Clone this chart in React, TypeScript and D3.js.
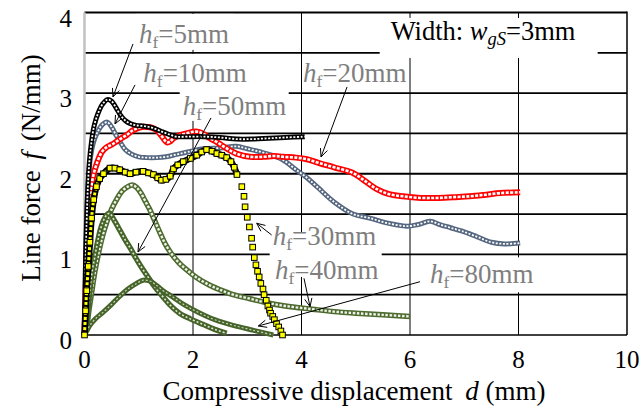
import * as d3 from "d3";

const FONT = "'Liberation Serif', 'Times New Roman', serif";

// axis ticks and grid
const xTicks = [0, 2, 4, 6, 8, 10];
const yTicks = [0, 1, 2, 3, 4];
const xGrid = [2, 4, 6, 8];
const yGrid = [0.5, 1, 1.5, 2, 2.5, 3, 3.5, 4];

// [d (mm), f (N/mm)]
const hf5 = [[0,0],[0.01,0.4],[0.02,0.9],[0.04,1.4],[0.06,1.8],[0.09,2.15],[0.13,2.4],[0.18,2.6],[0.25,2.75],[0.33,2.86],[0.42,2.92],[0.5,2.9],[0.58,2.82],[0.66,2.73],[0.75,2.66],[0.85,2.62],[0.95,2.6],[1.1,2.59],[1.25,2.57],[1.4,2.53],[1.55,2.49],[1.7,2.46],[1.9,2.46],[2.2,2.46],[2.5,2.45],[2.8,2.43],[3.1,2.43],[3.4,2.44],[3.7,2.45],[4.06,2.46]];
const hf10 = [[0,0],[0.01,0.5],[0.02,1.0],[0.04,1.5],[0.07,1.9],[0.11,2.2],[0.17,2.4],[0.25,2.53],[0.33,2.61],[0.42,2.64],[0.5,2.58],[0.58,2.48],[0.66,2.39],[0.75,2.3],[0.85,2.25],[1.0,2.21],[1.15,2.2],[1.33,2.2],[1.5,2.21],[1.7,2.24],[1.9,2.27],[2.2,2.31],[2.5,2.32],[2.8,2.34],[3.0,2.31],[3.25,2.27],[3.45,2.23],[3.66,2.17],[3.9,2.05],[4.1,1.95],[4.3,1.83],[4.6,1.65],[4.95,1.5],[5.26,1.45],[5.57,1.39],[5.94,1.35],[6.15,1.37],[6.37,1.41],[6.55,1.37],[6.75,1.33],[6.95,1.29],[7.23,1.22],[7.5,1.15],[7.75,1.13],[8.03,1.14]];
const hf20 = [[0,0],[0.01,0.3],[0.03,0.75],[0.05,1.15],[0.08,1.5],[0.12,1.8],[0.17,2.0],[0.24,2.15],[0.32,2.27],[0.41,2.33],[0.5,2.36],[0.59,2.4],[0.68,2.44],[0.78,2.48],[0.87,2.53],[0.96,2.56],[1.06,2.58],[1.15,2.58],[1.25,2.57],[1.33,2.54],[1.42,2.47],[1.52,2.39],[1.58,2.4],[1.64,2.44],[1.76,2.48],[1.88,2.5],[2.0,2.52],[2.1,2.52],[2.2,2.49],[2.31,2.44],[2.45,2.39],[2.56,2.34],[2.68,2.29],[2.8,2.25],[3.05,2.21],[3.3,2.21],[3.5,2.22],[3.66,2.21],[3.9,2.2],[4.1,2.18],[4.34,2.13],[4.6,2.08],[4.95,2.01],[5.15,1.92],[5.39,1.81],[5.6,1.75],[5.87,1.72],[6.2,1.7],[6.49,1.7],[6.8,1.71],[7.1,1.72],[7.4,1.74],[7.66,1.76],[8.03,1.77]];
const hf30 = [[0,0],[0.02,0.3],[0.04,0.55],[0.07,0.85],[0.1,1.15],[0.13,1.45],[0.17,1.68],[0.22,1.84],[0.28,1.94],[0.35,2.0],[0.47,2.07],[0.56,2.07],[0.65,2.05],[0.75,2.02],[0.84,2.0],[0.95,2.02],[1.08,2.03],[1.18,2.01],[1.27,1.99],[1.35,1.95],[1.42,1.92],[1.5,1.93],[1.58,1.97],[1.64,2.06],[1.72,2.11],[1.82,2.15],[1.95,2.19],[2.07,2.23],[2.16,2.27],[2.25,2.3],[2.35,2.28],[2.44,2.25],[2.53,2.23],[2.62,2.2],[2.7,2.15],[2.76,2.08],[2.81,1.99],[2.9,1.84],[2.94,1.72],[2.96,1.59],[3.0,1.46],[3.04,1.34],[3.08,1.2],[3.1,1.09],[3.13,0.96],[3.16,0.87],[3.19,0.79],[3.22,0.72],[3.25,0.64],[3.29,0.57],[3.31,0.5],[3.35,0.43],[3.38,0.36],[3.41,0.31],[3.43,0.27],[3.47,0.23],[3.5,0.19],[3.54,0.14],[3.58,0.1],[3.62,0.05],[3.65,0.0]];
const hf40 = [[0,0],[0.04,0.1],[0.08,0.3],[0.13,0.52],[0.19,0.78],[0.26,1.02],[0.33,1.22],[0.41,1.4],[0.5,1.56],[0.6,1.69],[0.7,1.79],[0.8,1.84],[0.88,1.86],[0.96,1.83],[1.04,1.76],[1.12,1.66],[1.2,1.56],[1.28,1.44],[1.39,1.27],[1.48,1.14],[1.58,1.03],[1.72,0.91],[1.88,0.81],[2.05,0.72],[2.3,0.62],[2.5,0.56],[2.74,0.5],[3.05,0.45],[3.36,0.4],[3.7,0.36],[4.2,0.32],[4.6,0.29],[5.0,0.27],[5.5,0.25],[6.0,0.23]];
const hf50 = [[0,0],[0.03,0.12],[0.06,0.3],[0.1,0.56],[0.14,0.78],[0.19,0.97],[0.24,1.15],[0.29,1.3],[0.35,1.42],[0.41,1.49],[0.46,1.51],[0.55,1.42],[0.65,1.3],[0.75,1.18],[0.85,1.07],[0.95,0.95],[1.05,0.84],[1.15,0.74],[1.25,0.64],[1.35,0.55],[1.45,0.47],[1.58,0.37],[1.75,0.27],[1.95,0.2],[2.19,0.13],[2.4,0.07],[2.62,0.02]];
const hf80 = [[0,0],[0.05,0.06],[0.1,0.12],[0.2,0.2],[0.34,0.28],[0.5,0.38],[0.65,0.48],[0.8,0.57],[0.96,0.64],[1.08,0.68],[1.2,0.67],[1.3,0.63],[1.45,0.55],[1.63,0.47],[1.85,0.37],[2.13,0.27],[2.4,0.19],[2.74,0.12],[3.1,0.06],[3.48,0.0]];

// drawing order: greens at the back, yellow on top
const series = [
  { data: hf40, color: "#4e6b30", inner: "#eef2e8", w: 5.5, iw: 2.4, dash: "2.5 1.6" },
  { data: hf50, color: "#46642a", inner: "#dfe7d4", w: 5.5, iw: 1.6, dash: "2 2" },
  { data: hf80, color: "#46642a", inner: "#c9d5bb", w: 5, iw: 1.2, dash: "2 2" },
  { data: hf10, color: "#55667f", inner: "#ffffff", w: 5, iw: 1.8, dash: "2 1.6" },
  { data: hf20, color: "#ff0000", inner: "#ffffff", w: 6, iw: 2.6, dash: "3 1.4" },
  { data: hf5, color: "#000000", inner: "#ffffff", w: 5, iw: 1.8, dash: "2 1.6" },
];

// label text positions given in data units
const labels = [
  { sub: "f", text: "=5mm", at: [1.005, 3.623], box: [-3, -29, 98, 36], from: [0.894, 3.61], to: [0.525, 2.953] },
  { sub: "f", text: "=10mm", at: [1.084, 3.139], box: [-3, -28, 109, 37], from: [0.931, 3.102], to: [0.562, 2.618] },
  { sub: "f", text: "=50mm", at: [1.81, 2.73], box: [-3, -25, 109, 31], from: [2.332, 2.692], to: [0.986, 1.03] },
  { sub: "f", text: "=20mm", at: [4.028, 3.139], box: null, from: [4.84, 3.077], to: [4.36, 2.208] },
  { sub: "f", text: "=30mm", at: [3.469, 1.117], box: [-3, -12, 112, 25], from: [3.45, 1.24], to: [3.174, 1.386] },
  { sub: "f", text: "=40mm", at: [3.512, 0.695], box: [-3, -21, 113, 19], from: [4.046, 0.703], to: [4.157, 0.351] },
  { sub: "f", text: "=80mm", at: [6.369, 0.641], box: [-10, -26, 119, 35], from: [6.184, 0.661], to: [3.204, 0.112] },
];

const X0 = 84.5, X1 = 627, Y0 = 335, Y1 = 12.5;

export default function App() {
  const x = d3.scaleLinear([0, 10], [X0, X1]);
  const y = d3.scaleLinear([0, 4], [Y0, Y1]);

  const line = d3.line<number[]>()
    .x(d => x(d[0]))
    .y(d => y(d[1]))
    .curve(d3.curveCatmullRom.alpha(0.5));

  // the yellow squares only overlap into a band up to the peak
  const yellowBand = d3.line<number[]>()
    .defined(d => d[0] <= 2.81)
    .x(d => x(d[0]))
    .y(d => y(d[1]))
    .curve(d3.curveCatmullRom.alpha(0.5));

  const arrowHead = (from: number[], to: number[]) => {
    const x1 = x(from[0]), y1 = y(from[1]), x2 = x(to[0]), y2 = y(to[1]);
    const a = Math.atan2(y2 - y1, x2 - x1);
    const len = 9, spread = 0.42;
    const p1 = [x2 - len * Math.cos(a - spread), y2 - len * Math.sin(a - spread)];
    const p2 = [x2 - len * Math.cos(a + spread), y2 - len * Math.sin(a + spread)];
    return `M${p1[0]},${p1[1]}L${x2},${y2}L${p2[0]},${p2[1]}`;
  };

  const wLabel = [5.644, 3.66];

  return (
    <svg width={643} height={409} style={{ position: "absolute", left: 0, top: 0, background: "#fff" }} fontFamily={FONT}>
      {/* grid */}
      {xGrid.map(v => (
        <line key={"gx" + v} x1={x(v)} x2={x(v)} y1={Y1} y2={Y0} stroke="#000" strokeWidth={1} />
      ))}
      {yGrid.map(v => (
        <line key={"gy" + v} x1={X0} x2={X1} y1={y(v)} y2={y(v)} stroke="#000" strokeWidth={v === 4 ? 2 : 1.8} />
      ))}
      <line x1={X1} x2={X1} y1={Y1 - 1} y2={Y0} stroke="#000" strokeWidth={1.5} />
      <line x1={X0} x2={X1} y1={Y0} y2={Y0} stroke="#000" strokeWidth={1.5} />
      <line x1={X0} x2={X0} y1={Y1} y2={Y0} stroke="#c4c4c4" strokeWidth={2.6} />

      {/* series */}
      {series.map((s, i) => (
        <g key={"s" + i}>
          <path d={line(s.data) ?? ""} fill="none" stroke={s.color} strokeWidth={s.w} strokeLinejoin="round" />
          <path d={line(s.data) ?? ""} fill="none" stroke={s.inner} strokeWidth={s.iw} strokeDasharray={s.dash} />
        </g>
      ))}
      <path d={yellowBand(hf30) ?? ""} fill="none" stroke="#000" strokeWidth={6.5} strokeLinejoin="round" />
      <path d={yellowBand(hf30) ?? ""} fill="none" stroke="#ffff00" strokeWidth={3} strokeDasharray="3 2" />
      {hf30.map((d, i) => (
        <rect key={"y" + i} x={x(d[0]) - 2.8} y={y(d[1]) - 2.8} width={5.6} height={5.6} fill="#ffff00" stroke="#000" strokeWidth={1} />
      ))}

      {/* label boxes */}
      <rect x={x(wLabel[0]) - 11} y={y(wLabel[1]) - 22} width={218} height={40} fill="#fff" />
      {labels.filter(l => l.box).map((l, i) => (
        <rect key={"b" + i} x={x(l.at[0]) + l.box![0]} y={y(l.at[1]) + l.box![1]} width={l.box![2]} height={l.box![3]} fill="#fff" />
      ))}

      {/* arrows */}
      {labels.map((l, i) => (
        <g key={"a" + i} stroke="#000" strokeWidth={1} fill="none">
          <line x1={x(l.from[0])} y1={y(l.from[1])} x2={x(l.to[0])} y2={y(l.to[1])} />
          <path d={arrowHead(l.from, l.to)} />
        </g>
      ))}

      {/* labels */}
      {labels.map((l, i) => (
        <text key={"t" + i} x={x(l.at[0])} y={y(l.at[1])} fontSize={27} fill="#7f7f7f">
          <tspan fontStyle="italic">h</tspan>
          <tspan fontSize={17.5} dy={5}>{l.sub}</tspan>
          <tspan dy={-5}>{l.text}</tspan>
        </text>
      ))}
      <text x={x(wLabel[0])} y={y(wLabel[1])} fontSize={26.5} fill="#000">
        <tspan>Width: </tspan>
        <tspan fontStyle="italic">w</tspan>
        <tspan fontStyle="italic" fontSize={18.5} dy={5}>gS</tspan>
        <tspan dy={-5}>=3mm</tspan>
      </text>

      {/* tick labels */}
      {yTicks.map(v => (
        <text key={"yt" + v} x={72} y={y(v) + 14} fontSize={25} textAnchor="end" fill="#000">{v}</text>
      ))}
      {xTicks.map(v => (
        <text key={"xt" + v} x={x(v)} y={368} fontSize={25} textAnchor="middle" fill="#000">{v}</text>
      ))}

      {/* axis titles */}
      <text x={354} y={400} fontSize={27} textAnchor="middle" fill="#000">
        Compressive displacement <tspan dx={6} fontStyle="italic">d</tspan> (mm)
      </text>
      <text transform="translate(40,168) rotate(-90)" fontSize={27} textAnchor="middle" fill="#000">
        Line force <tspan dx={4} fontStyle="italic">f</tspan><tspan dx={4}> (N/mm)</tspan>
      </text>
    </svg>
  );
}
